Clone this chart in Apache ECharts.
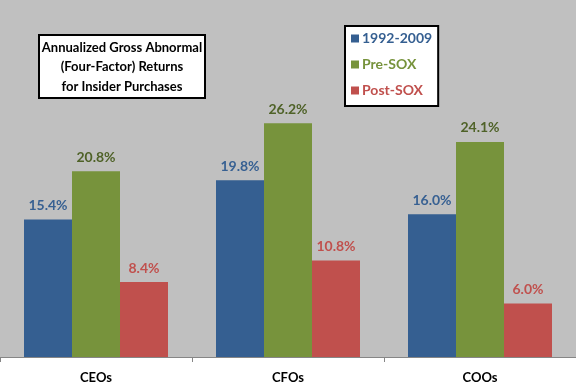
<!DOCTYPE html>
<html>
<head>
<meta charset="utf-8">
<script src="https://cdn.jsdelivr.net/npm/echarts@6/dist/echarts.min.js"></script>
<style>html,body{margin:0;padding:0;background:#fff}#c{width:576px;height:384px}</style>
</head>
<body>
<div id="c"></div>
<script>
const categories = ['CEOs', 'CFOs', 'COOs'];
const seriesNames = ['1992-2009', 'Pre-SOX', 'Post-SOX'];
const values1992 = [15.4, 19.8, 16.0];
const valuesPre = [20.8, 26.2, 24.1];
const valuesPost = [8.4, 10.8, 6.0];
const titleLines = ['Annualized Gross Abnormal', '(Four-Factor) Returns', 'for Insider Purchases'];

const colors = ['#355F91', '#77933C', '#C0504D'];
const labelColors = ['#376092', '#4F6228', '#C0504D'];
const font = 'Lato, "Open Sans", sans-serif';

const chart = echarts.init(document.getElementById('c'), null, {renderer: 'canvas'});
const mk = (name, data, i) => ({
  name, type: 'bar', data,
  barGap: '0%', barCategoryGap: '25%',
  itemStyle: {color: colors[i]},
  label: {
    show: true, position: 'top', distance: 7,
    formatter: p => p.value.toFixed(1) + '%',
    color: labelColors[i], fontFamily: font, fontWeight: 'bold', fontSize: 14
  }
});
chart.setOption({
  animation: false,
  grid: {left: 0, right: 0, top: 0, bottom: 27, show: true, backgroundColor: '#C0C0C0', borderWidth: 0},
  xAxis: {
    type: 'category', data: categories,
    axisLine: {lineStyle: {color: '#868686', width: 1}},
    axisTick: {show: true, length: 5, lineStyle: {color: '#868686'}},
    axisLabel: {color: '#000', fontFamily: font, fontWeight: 'bold', fontSize: 13, margin: 14}
  },
  yAxis: {type: 'value', min: 0, max: 40, show: false, splitLine: {show: false}},
  legend: {
    orient: 'vertical', left: 345, top: 26,
    backgroundColor: '#fff', borderColor: '#000', borderWidth: 2,
    padding: [5, 6, 8, 6], itemGap: 11, itemWidth: 8, itemHeight: 8, icon: 'rect',
    data: seriesNames.map((n, i) => ({name: n, textStyle: {color: colors[i]}})),
    textStyle: {fontFamily: font, fontWeight: 'bold', fontSize: 14, padding: [0, 0, 0, -2], lineHeight: 15}
  },
  graphic: [
    {type: 'rect', shape: {x: 39, y: 35, width: 166, height: 63},
     style: {fill: '#fff', stroke: '#000', lineWidth: 2}, z: 10},
    {type: 'text', x: 122, y: 38, z: 11,
     style: {text: titleLines.join('\n'), textAlign: 'center', textVerticalAlign: 'top',
             fill: '#000', font: 'bold 13px ' + font, lineHeight: 19.5}}
  ],
  series: [mk(seriesNames[0], values1992, 0), mk(seriesNames[1], valuesPre, 1), mk(seriesNames[2], valuesPost, 2)]
});
</script>
</body>
</html>
